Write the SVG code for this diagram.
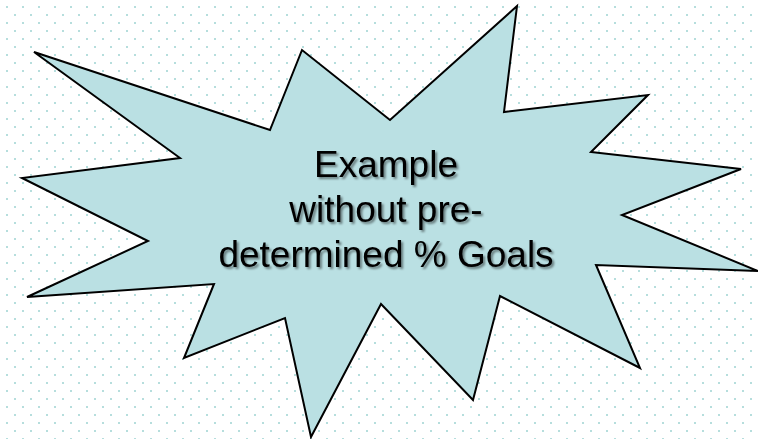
<svg xmlns="http://www.w3.org/2000/svg" width="758" height="439" viewBox="0 0 758 439">
  <defs>
    <pattern id="dots" x="0" y="0" width="16" height="16" patternUnits="userSpaceOnUse">
      <rect x="6" y="6" width="2" height="2" fill="#b6dedd"/>
      <rect x="14" y="14" width="2" height="2" fill="#b6dedd"/>
    </pattern>
    <filter id="shadow" x="-10%" y="-10%" width="120%" height="130%">
      <feDropShadow dx="2" dy="2" stdDeviation="1.2" flood-color="#000" flood-opacity="0.45"/>
    </filter>
  </defs>
  <style>
    .star { fill: #bae0e3; stroke: #000; stroke-width: 2; stroke-linejoin: miter; }
    .label { font-family: "Liberation Sans", Arial, sans-serif; font-size: 37px; fill: #000; text-anchor: middle; filter: url(#shadow); }
  </style>
  <rect width="758" height="439" fill="#ffffff"/>
  <rect width="758" height="439" fill="url(#dots)"/>
  <g id="burst">
    <polygon class="star" points="34,52 270,130 302,50 390,120 517,6 504,112 648,95 591,152 741,169 622,215 758,271 596,265 640,368 500,296 473,400 381,304 311,437 285,318 184,358 214,284 27,297 148,241 22,178 180,158"/>
    <text class="label" x="386" y="177">Example</text>
    <text class="label" x="386" y="222">without pre-</text>
    <text class="label" x="386" y="267">determined % Goals</text>
  </g>
</svg>
